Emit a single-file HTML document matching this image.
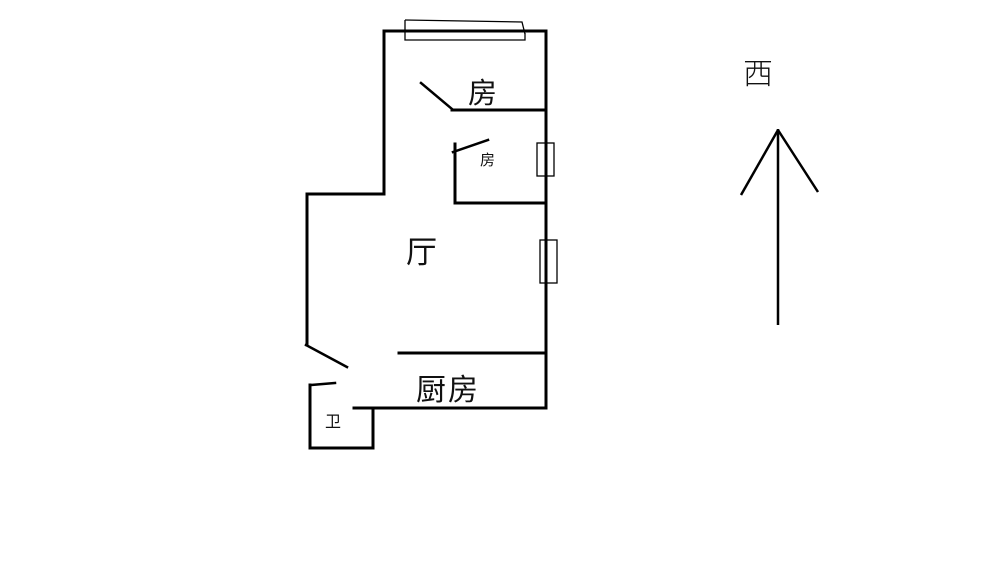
<!DOCTYPE html>
<html><head><meta charset="utf-8"><style>
html,body{margin:0;padding:0;background:#fff;}
svg{display:block;}
text{font-family:"Liberation Sans","Noto Sans CJK SC","WenQuanYi Zen Hei",sans-serif;fill:#111;}
</style></head><body>
<svg width="1000" height="562" viewBox="0 0 1000 562" xmlns="http://www.w3.org/2000/svg">
<g stroke="#000" stroke-width="3" fill="none" stroke-linecap="square">
<!-- outer walls -->
<polyline points="546,31 384,31 384,194 307,194 307,345"/>
<line x1="546" y1="31" x2="546" y2="408"/>
<!-- room 1 divider -->
<line x1="452" y1="110" x2="546" y2="110"/>
<line x1="421" y1="83" x2="452" y2="109" stroke-width="2.5"/>
<!-- room 2 -->
<polyline points="455,144 455,203 546,203"/>
<line x1="453" y1="152" x2="488" y2="140" stroke-width="2.5"/>
<!-- kitchen -->
<line x1="399" y1="353" x2="546" y2="353"/>
<line x1="354" y1="408" x2="546" y2="408"/>
<line x1="306" y1="345" x2="347" y2="367" stroke-width="2.5"/>
<!-- bathroom -->
<line x1="311" y1="385" x2="335" y2="383" stroke-width="2.5"/>
<polyline points="310,385 310,448 373,448 373,408"/>
</g>
<g stroke="#000" stroke-width="1.3" fill="none">
<!-- top window -->
<polyline points="405,20 522,22 525,34"/>
<polyline points="405,20 405,40 525,40 525,33"/>
<!-- right windows -->
<rect x="537" y="143" width="17" height="33"/>
<rect x="540" y="240" width="17" height="43"/>
</g>
<!-- arrow -->
<g stroke="#000" stroke-width="2.5" fill="none">
<line x1="778" y1="129" x2="778" y2="325"/>
<line x1="778" y1="130" x2="741" y2="195"/>
<line x1="778" y1="130" x2="818" y2="192"/>
</g>
<text x="468" y="103" font-size="29">房</text>
<text x="480" y="165" font-size="15">房</text>
<text x="406" y="263" font-size="31">厅</text>
<text x="416" y="400" font-size="30" letter-spacing="2">厨房</text>
<text x="325" y="427" font-size="16">卫</text>
<text x="743" y="84" font-size="30" font-weight="300">西</text>
</svg>
</body></html>
